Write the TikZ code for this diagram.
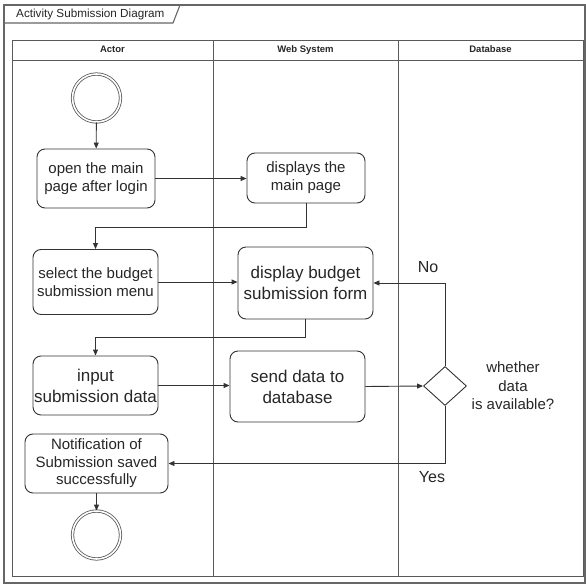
\documentclass[tikz,border=0pt]{standalone}
\usepackage{fontspec}
\setmainfont{Liberation Sans}
\usetikzlibrary{shapes.geometric,arrows.meta}
\newcommand\fsz[2]{\fontsize{#1}{#2}\selectfont}
\tikzset{
  ink/.style={draw=black!80, line width=0.9pt},
  act/.style={ink, rounded corners=8pt, align=center, inner sep=0pt, text=black!85},
  flow/.style={ink, -{Triangle[length=6pt,width=5pt]}},
  terminal/.style={circle, draw=black!65, line width=0.8pt, double, double distance=1.6pt, minimum size=48pt, inner sep=0pt},
  lanehead/.style={font=\bfseries\fsz{9.5}{11}, text=black!85, text height=7pt, text depth=2pt, inner sep=0pt},
  frameline/.style={draw=black!60, line width=1.1pt},
  lbl/.style={text=black!85, align=center, inner sep=0pt}
}
\begin{document}
\begin{tikzpicture}[x=1pt, y=-1pt]
\useasboundingbox (0,0) rectangle (586,585);

% outer frame with its name tab
\draw[frameline] (4,5) rectangle (585,583);
\draw[frameline] (4,23) -- (173,23) -- (180,5);
\node[lbl, anchor=west, font=\fsz{11.7}{14}] (title) at (16,14) {Activity Submission Diagram};

% swimlane pool
\draw[ink, draw=black!65] (12,40) rectangle (583,576);
\draw[ink, draw=black!65] (12,60) -- (583,60);
\draw[ink, draw=black!65] (213,40) -- (213,576);
\draw[ink, draw=black!65] (398,40) -- (398,576);
\node[lanehead] (hActor) at (112.5,50) {Actor};
\node[lanehead] (hWeb) at (305.5,50) {Web System};
\node[lanehead] (hDb) at (490.5,50) {Database};

% activities
\node[terminal] (start) at (96.5,98) {};
\node[act, minimum width=118pt, minimum height=59pt, font=\fsz{15}{18}] (b1) at (96,178.5) {open the main\\page after login};
\node[act, minimum width=118pt, minimum height=50pt, font=\fsz{15}{18}] (b2) at (306,178) {displays the\\main page};
\node[act, minimum width=125pt, minimum height=65pt, font=\fsz{15}{18}] (b3) at (95.5,282) {select the budget\\submission menu};
\node[act, minimum width=135pt, minimum height=72pt, font=\fsz{17}{21}] (b4) at (305.5,283) {display budget\\submission form};
\node[act, minimum width=125pt, minimum height=59pt, font=\fsz{17}{21}] (b5) at (95.5,385.5) {input\\submission data};
\node[act, minimum width=135pt, minimum height=71pt, font=\fsz{17}{21}] (b6) at (297.5,386.5) {send data to\\database};
\node[diamond, ink, minimum width=43pt, minimum height=39pt, inner sep=0pt] (dec) at (445,386) {};
\node[lbl, font=\fsz{15}{18.5}] (q) at (513,386) {whether\\data\\is available?};
\node[act, minimum width=143pt, minimum height=59pt, font=\fsz{15}{17.5}] (b7) at (96.5,463.5) {Notification of\\Submission saved\\successfully};
\node[terminal] (end) at (96.5,535) {};

% control flow
\draw[flow] (start) -- (b1);
\draw[flow] (b1.east) -- (b2.west |- b1.east);
\draw[flow] (b2.south) -- ++(0,24) -| (b3.north);
\draw[flow] (b3.east) -- (b4.west |- b3.east);
\draw[flow] (b4.south) -- ++(0,18) -| (b5.north);
\draw[flow] (b5.east) -- (b6.west |- b5.east);
\draw[flow] (b6.east) -- (dec.west);
\draw[flow] (dec.north) |- (b4.east);
\draw[flow] (dec.south) |- (b7.east);
\draw[flow] (b7) -- (end);
\node[lbl, font=\fsz{16}{19}] (no) at (428,267) {No};
\node[lbl, font=\fsz{16}{19}] (yes) at (432,477) {Yes};
\end{tikzpicture}
\end{document}
